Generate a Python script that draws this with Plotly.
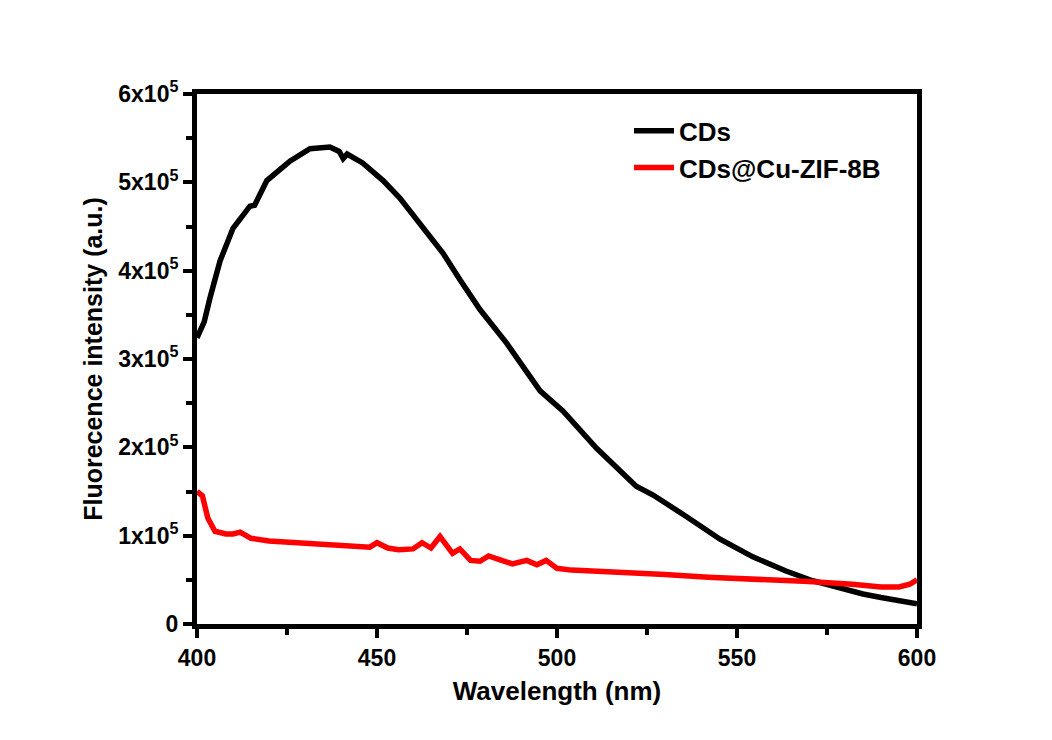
import plotly.graph_objects as go

## Data (intensity in units of 1e5)

cds_wl = [400, 402, 403.6, 406.4, 410, 414.7, 416, 419.4, 425.8, 431.4, 436.9, 439.5, 440.6, 441.7,
          446, 451.7, 456.4, 462.8, 468.3, 473, 478.6, 486, 490, 495.3, 501.7, 511, 522, 526.7,
          535.8, 545.3, 554.4, 563.6, 571, 578.6, 585, 590, 595, 600]
cds_int = [3.24, 3.42, 3.69, 4.11, 4.48, 4.73, 4.74, 5.02, 5.24, 5.38, 5.40, 5.35, 5.27, 5.32,
           5.22, 5.02, 4.82, 4.48, 4.20, 3.90, 3.56, 3.18, 2.94, 2.64, 2.41, 1.99, 1.56, 1.46,
           1.22, 0.96, 0.76, 0.60, 0.49, 0.40, 0.34, 0.30, 0.26, 0.23]

cu_wl = [400, 401.5, 403, 405, 408, 410, 412, 415, 420, 425, 430, 440, 448, 450, 453,
         456, 460, 462.5, 465, 467.5, 471, 473, 476, 478.6, 481, 484, 487.6, 491.6, 494.4, 497,
         500, 504, 510, 520, 530, 542, 550, 560, 570, 582, 590, 595, 598, 600]
cu_int = [1.50, 1.45, 1.20, 1.05, 1.02, 1.02, 1.04, 0.97, 0.94, 0.93, 0.91, 0.89, 0.87, 0.92, 0.86,
          0.84, 0.85, 0.92, 0.86, 0.99, 0.80, 0.85, 0.72, 0.71, 0.77, 0.73, 0.68, 0.72, 0.67, 0.72,
          0.63, 0.61, 0.60, 0.58, 0.56, 0.53, 0.52, 0.50, 0.48, 0.45, 0.42, 0.42, 0.45, 0.50]

y_ticks = [0, 1, 2, 3, 4, 5, 6]
y_labels = ['0', '1x10<sup>5</sup>', '2x10<sup>5</sup>', '3x10<sup>5</sup>',
            '4x10<sup>5</sup>', '5x10<sup>5</sup>', '6x10<sup>5</sup>']
x_ticks = [400, 450, 500, 550, 600]

fnt = 'Arial, Liberation Sans, sans-serif'

fig = go.Figure()
fig.add_trace(go.Scatter(x=cds_wl, y=[v * 1e5 for v in cds_int], mode='lines', name='CDs',
                         line=dict(color='black', width=5.5)))
fig.add_trace(go.Scatter(x=cu_wl, y=[v * 1e5 for v in cu_int], mode='lines', name='CDs@Cu-ZIF-8B',
                         line=dict(color='#ff0000', width=5.5)))

# page body has an 8px margin, so shift everything up/left by 8
fig.update_layout(
    width=1052, height=740,
    paper_bgcolor='white', plot_bgcolor='white',
    margin=dict(l=189, r=143, t=86, b=124),
    font=dict(family=fnt, color='black'),
    legend=dict(x=0.60, y=0.975, xanchor='left', yanchor='top', bgcolor='rgba(0,0,0,0)',
                font=dict(size=26, weight='bold'), tracegroupgap=0, itemwidth=40),
    showlegend=True,
)
fig.update_xaxes(
    range=[400, 600], tickvals=x_ticks, showgrid=False, zeroline=False,
    showline=True, linewidth=5, linecolor='black', mirror=True,
    ticks='outside', ticklen=9, tickwidth=4, tickcolor='black',
    minor=dict(ticks='outside', dtick=25, ticklen=6, tickwidth=4, tickcolor='black'),
    tickfont=dict(size=23, weight='bold'),
    title=dict(text='Wavelength (nm)', font=dict(size=26, weight='bold'), standoff=14),
)
fig.update_yaxes(
    range=[0, 6e5], tickvals=[v * 1e5 for v in y_ticks], ticktext=y_labels,
    showgrid=False, zeroline=False,
    showline=True, linewidth=5, linecolor='black', mirror=True,
    ticks='outside', ticklen=9, tickwidth=4, tickcolor='black',
    minor=dict(ticks='outside', dtick=0.5e5, ticklen=6, tickwidth=4, tickcolor='black'),
    tickfont=dict(size=23, weight='bold'),
    title=dict(text='Fluorecence intensity (a.u.)', font=dict(size=25, weight='bold'), standoff=10),
)

fig.write_html("out.html")
